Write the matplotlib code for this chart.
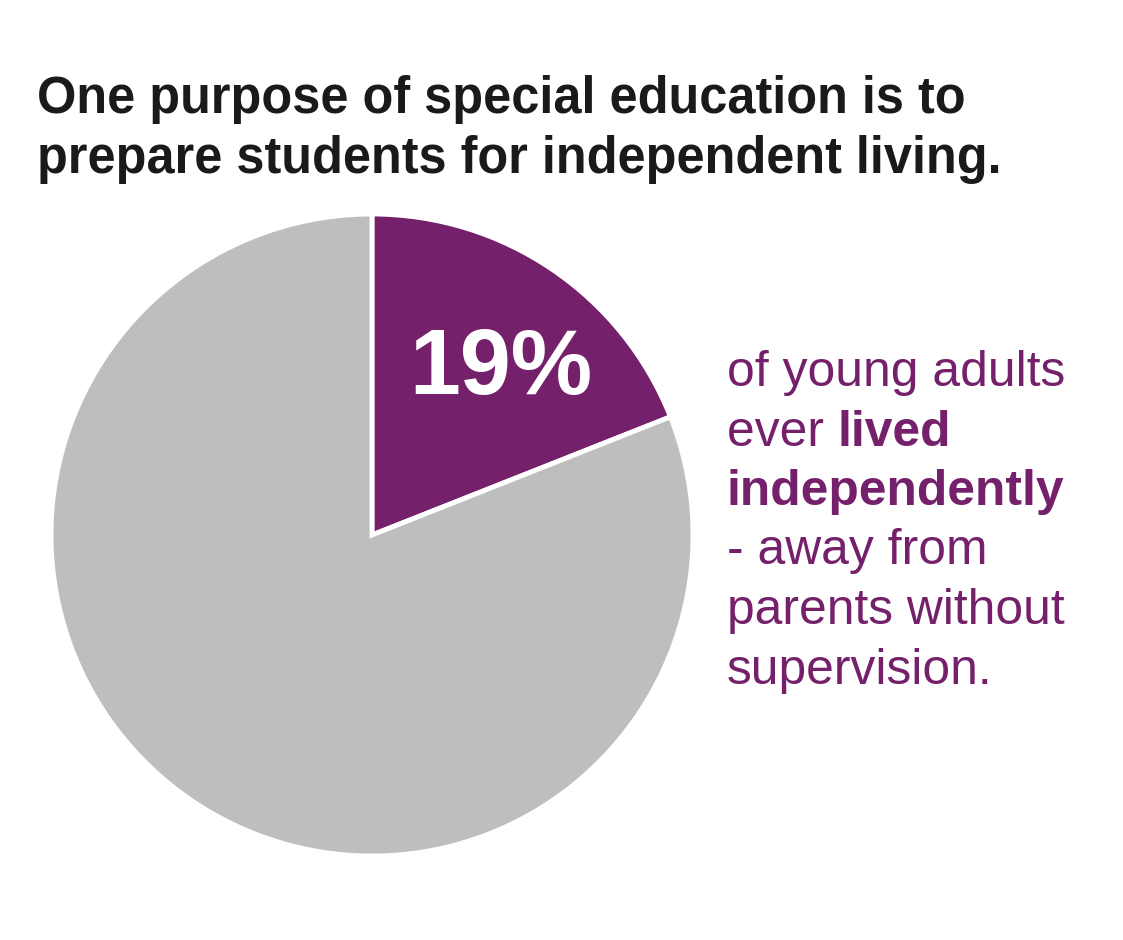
import matplotlib.pyplot as plt

# data
labels = ['Lived independently', 'Did not']
shares = [19, 81]
colors = ['#75206b', '#bebebe']

title_lines = ['One purpose of special education is to',
               'prepare students for independent living.']
# note text: list of lines, each line a list of (text, bold) pieces
note_lines = [
    [('of young adults', False)],
    [('ever ', False), ('lived', True)],
    [('independently', True)],
    [('- away from', False)],
    [('parents without', False)],
    [('supervision.', False)],
]

W, H = 1123, 940
plt.rcParams['font.family'] = ['Liberation Sans', 'DejaVu Sans']
fig = plt.figure(figsize=(W / 100, H / 100), dpi=100)
fig.patch.set_facecolor('white')

# pie placed by pixel centre / radius
cx, cy, r = 372, 535, 321
ax = fig.add_axes([(cx - r) / W, (H - cy - r) / H, 2 * r / W, 2 * r / H])
ax.pie(shares, colors=colors, startangle=90, counterclock=False,
       wedgeprops=dict(edgecolor='white', linewidth=3.5))
ax.set_xlim(-1, 1)
ax.set_ylim(-1, 1)
ax.axis('off')

# big percentage label inside the purple slice
ax.text(0.40, 0.515, f'{shares[0]}%', color='white', fontsize=66,
        fontweight='bold', ha='center', va='center')

# title
for i, line in enumerate(title_lines):
    fig.text(37 / W, 1 - (113 + i * 60) / H, line, fontsize=36.4,
             fontweight='bold', color='#1a1a1a', ha='left', va='baseline')

# note at right, mixed weights
fig.canvas.draw()
renderer = fig.canvas.get_renderer()
for i, pieces in enumerate(note_lines):
    x = 727
    y = 1 - (386 + i * 59.5) / H
    for txt, bold in pieces:
        t = fig.text(x / W, y, txt, fontsize=35.8, color='#75206b',
                     fontweight='bold' if bold else 'normal',
                     ha='left', va='baseline')
        bb = t.get_window_extent(renderer=renderer)
        x += bb.width

fig.savefig('out.png', dpi=100, facecolor='white')
